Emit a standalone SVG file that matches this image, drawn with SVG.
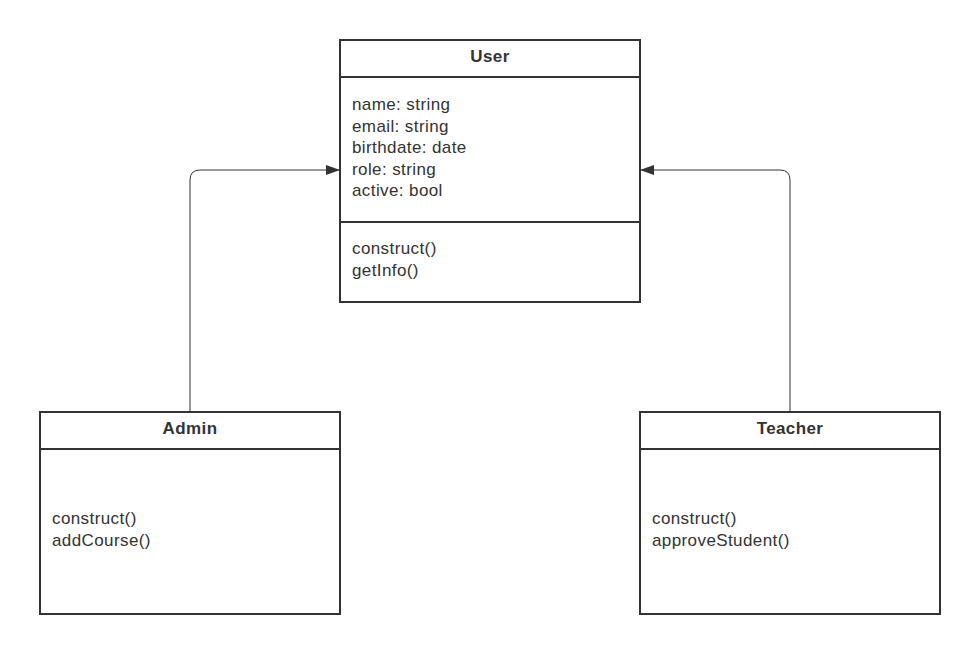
<svg xmlns="http://www.w3.org/2000/svg" width="980" height="654" viewBox="0 0 980 654">
<style>
.box{fill:#fff;stroke:#333;stroke-width:2}
.sep{stroke:#333;stroke-width:2}
.t{font-family:"Liberation Sans",Arial,sans-serif;font-size:17px;letter-spacing:0.4px;fill:#333}
.h{font-family:"Liberation Sans",Arial,sans-serif;font-size:17px;letter-spacing:0.4px;font-weight:bold;fill:#333;text-anchor:middle}
.c{fill:none;stroke:#333;stroke-width:1}
</style>
<defs>
<marker id="arr" markerWidth="14" markerHeight="10" refX="13" refY="5" orient="auto" markerUnits="userSpaceOnUse">
<path d="M0,0 L14,5 L0,10 Z" fill="#333"/>
</marker>
</defs>
<rect width="980" height="654" fill="#fff"/>
<g id="connectors">
<path class="c" d="M190,411 V180 Q190,170 200,170 H339" marker-end="url(#arr)"/>
<path class="c" d="M790,411 V180 Q790,170 780,170 H641" marker-end="url(#arr)"/>
</g>
<g id="user">
<rect class="box" x="340" y="40" width="300" height="262"/>
<line class="sep" x1="340" y1="77" x2="640" y2="77"/>
<line class="sep" x1="340" y1="222" x2="640" y2="222"/>
<text class="h" x="490" y="62">User</text>
<text class="t" x="352" y="110">name: string</text>
<text class="t" x="352" y="131.5">email: string</text>
<text class="t" x="352" y="153">birthdate: date</text>
<text class="t" x="352" y="174.5">role: string</text>
<text class="t" x="352" y="196">active: bool</text>
<text class="t" x="352" y="254">construct()</text>
<text class="t" x="352" y="275.5">getInfo()</text>
</g>
<g id="admin">
<rect class="box" x="40" y="412" width="300" height="202"/>
<line class="sep" x1="40" y1="449" x2="340" y2="449"/>
<text class="h" x="190" y="434">Admin</text>
<text class="t" x="52" y="524">construct()</text>
<text class="t" x="52" y="545.5">addCourse()</text>
</g>
<g id="teacher">
<rect class="box" x="640" y="412" width="300" height="202"/>
<line class="sep" x1="640" y1="449" x2="940" y2="449"/>
<text class="h" x="790" y="434">Teacher</text>
<text class="t" x="652" y="524">construct()</text>
<text class="t" x="652" y="545.5">approveStudent()</text>
</g>
</svg>
